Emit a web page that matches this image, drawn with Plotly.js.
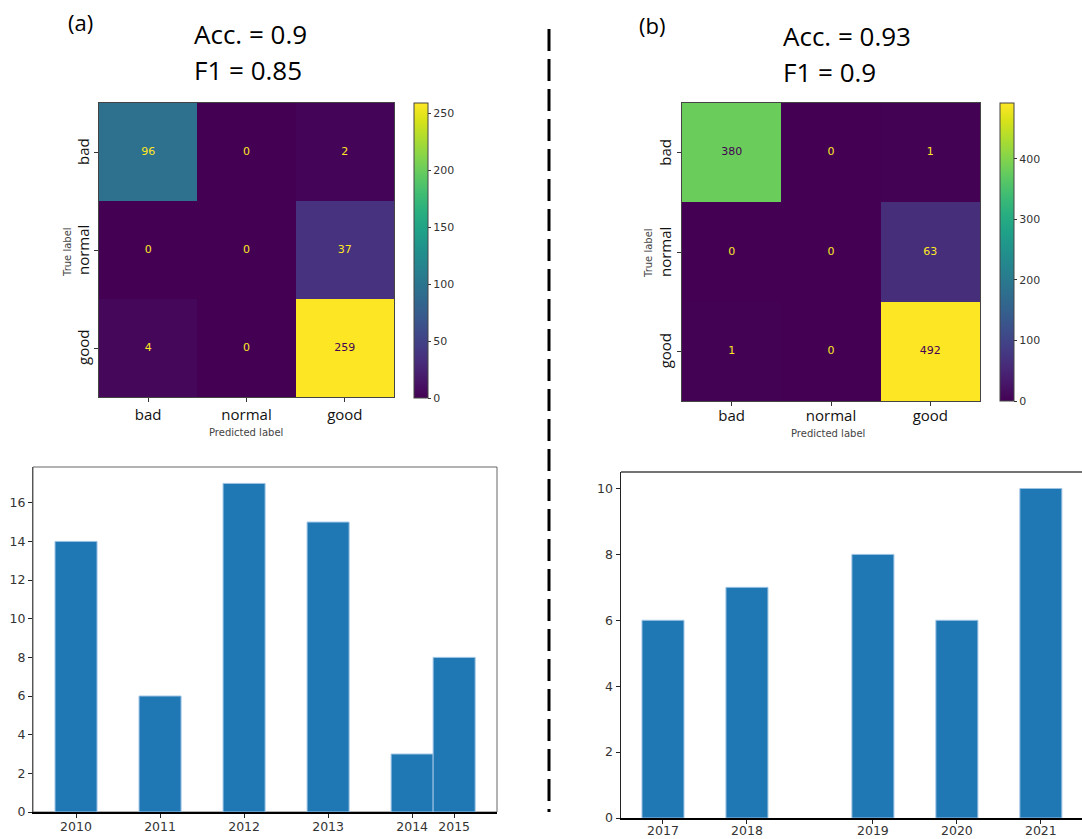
<!DOCTYPE html>
<html>
<head>
<meta charset="utf-8">
<script src="https://cdn.plot.ly/plotly-3.0.1.min.js"></script>
<style>html,body{margin:0;padding:0;background:#fff;}#chart{width:1082px;height:839px;}</style>
</head>
<body>
<div id="chart"></div>
<script>
// ---- data ----
const cmLabels = ['bad', 'normal', 'good'];
const cmA = [[96, 0, 2], [0, 0, 37], [4, 0, 259]];
const cmB = [[380, 0, 1], [0, 0, 63], [1, 0, 492]];
const panelTags = ['(a)', '(b)'];
const accText = ['Acc. = 0.9', 'Acc. = 0.93'];
const f1Text = ['F1 = 0.85', 'F1 = 0.9'];
const yearsA = ['2010', '2011', '2012', '2013', '2014', '2015'];
const posA = [0, 1, 2, 3, 4, 4.5];
const countsA = [14, 6, 17, 15, 3, 8];
const yearsB = ['2017', '2018', '2019', '2020', '2021'];
const posB = [0, 1, 2.5, 3.5, 4.5];
const countsB = [6, 7, 8, 6, 10];

// ---- helpers ----
const W = 1082, H = 839;
const px = v => v / W;
const py = v => 1 - v / H;
const DV = 'DejaVu Sans, sans-serif';
const OS = 'Open Sans, sans-serif';

function cellText(cm, xa, ya) {
  let zmax = 0;
  cm.forEach(r => r.forEach(v => { if (v > zmax) zmax = v; }));
  const thr = zmax / 2;
  const xs = [], ys = [], ts = [], cs = [];
  cm.forEach((row, i) => row.forEach((v, j) => {
    xs.push(cmLabels[j]); ys.push(cmLabels[i]); ts.push(String(v));
    cs.push(v > thr ? '#440154' : '#fde725');
  }));
  return {type: 'scatter', mode: 'text', x: xs, y: ys, text: ts, xaxis: xa, yaxis: ya,
    textfont: {family: DV, size: 11, color: cs}, hoverinfo: 'skip', showlegend: false};
}

function heat(cm, xa, ya, cbx, cbTop, cbBot, dtick) {
  let zmax = 0;
  cm.forEach(r => r.forEach(v => { if (v > zmax) zmax = v; }));
  return {type: 'heatmap', z: cm, x: cmLabels, y: cmLabels, xaxis: xa, yaxis: ya,
    colorscale: 'Viridis', zmin: 0, zmax: zmax, xgap: 0, ygap: 0,
    colorbar: {x: px(cbx), xanchor: 'left', thickness: 14, thicknessmode: 'pixels',
      len: (cbBot - cbTop) / H, lenmode: 'fraction', y: py((cbTop + cbBot) / 2), yanchor: 'middle',
      xpad: 0, ypad: 0, outlinewidth: 1, outlinecolor: '#444', ticks: 'outside', ticklen: 3,
      tickcolor: '#333', dtick: dtick, tick0: 0, tickfont: {family: DV, size: 11, color: '#333'}}};
}

const barMarker = {color: '#1f77b4', line: {color: '#9cc3e4', width: 1}};

const traces = [
  heat(cmA, 'x', 'y', 414, 103, 398, 50),
  cellText(cmA, 'x', 'y'),
  heat(cmB, 'x2', 'y2', 1000, 103, 401, 100),
  cellText(cmB, 'x2', 'y2'),
  {type: 'bar', x: posA, y: countsA, width: 0.5, xaxis: 'x3', yaxis: 'y3', marker: barMarker, showlegend: false},
  {type: 'bar', x: posB, y: countsB, width: 0.5, xaxis: 'x4', yaxis: 'y4', marker: barMarker, showlegend: false}
];

const hmX = (dom, anchor, so) => ({domain: dom, anchor: anchor, type: 'category', categoryorder: 'array', categoryarray: cmLabels,
  showline: true, mirror: true, linecolor: '#444', linewidth: 1, ticks: 'outside', ticklen: 4, tickcolor: '#333',
  ticklabelstandoff: so,
  tickfont: {family: OS, size: 15, color: '#111'}, showgrid: false, zeroline: false, fixedrange: true});
const hmY = (dom, anchor) => ({domain: dom, anchor: anchor, type: 'category', categoryorder: 'array', categoryarray: cmLabels,
  autorange: 'reversed', showline: true, mirror: true, linecolor: '#444', linewidth: 1, ticks: 'outside',
  ticklen: 4, tickcolor: '#333', showticklabels: false,
  showgrid: false, zeroline: false, fixedrange: true});

const barTickFont = {family: DV, size: 12.5, color: '#333'};

const annotations = [
  {text: panelTags[0], x: px(80), y: py(22), xref: 'paper', yref: 'paper', showarrow: false,
    xanchor: 'center', yanchor: 'middle', font: {family: OS, size: 22, color: '#000'}},
  {text: accText[0], x: px(192), y: py(34), xref: 'paper', yref: 'paper', showarrow: false,
    xanchor: 'left', yanchor: 'middle', font: {family: OS, size: 26, color: '#000'}},
  {text: f1Text[0], x: px(192), y: py(70), xref: 'paper', yref: 'paper', showarrow: false,
    xanchor: 'left', yanchor: 'middle', font: {family: OS, size: 26, color: '#000'}},
  {text: panelTags[1], x: px(652), y: py(25), xref: 'paper', yref: 'paper', showarrow: false,
    xanchor: 'center', yanchor: 'middle', font: {family: OS, size: 22, color: '#000'}},
  {text: accText[1], x: px(781), y: py(36), xref: 'paper', yref: 'paper', showarrow: false,
    xanchor: 'left', yanchor: 'middle', font: {family: OS, size: 26, color: '#000'}},
  {text: f1Text[1], x: px(781), y: py(72), xref: 'paper', yref: 'paper', showarrow: false,
    xanchor: 'left', yanchor: 'middle', font: {family: OS, size: 26, color: '#000'}},
  {text: 'Predicted label', x: px(246), y: py(432), xref: 'paper', yref: 'paper', showarrow: false,
    xanchor: 'center', yanchor: 'middle', font: {family: DV, size: 10, color: '#444'}},
  {text: 'True label', x: px(67), y: py(252), xref: 'paper', yref: 'paper', showarrow: false, textangle: -90,
    xanchor: 'center', yanchor: 'middle', font: {family: DV, size: 10, color: '#444'}},
  {text: 'Predicted label', x: px(828), y: py(433), xref: 'paper', yref: 'paper', showarrow: false,
    xanchor: 'center', yanchor: 'middle', font: {family: DV, size: 10, color: '#444'}},
  {text: 'True label', x: px(648), y: py(253), xref: 'paper', yref: 'paper', showarrow: false, textangle: -90,
    xanchor: 'center', yanchor: 'middle', font: {family: DV, size: 10, color: '#444'}}
];
// rotated row labels of the confusion matrices
[['y', 83], ['y2', 665]].forEach(([ya, xp]) => {
  cmLabels.forEach(lbl => annotations.push({text: lbl, x: px(xp), y: lbl, xref: 'paper', yref: ya,
    showarrow: false, textangle: -90, xanchor: 'center', yanchor: 'middle',
    font: {family: OS, size: 15, color: '#111'}}));
});

const layout = {
  width: W, height: H, margin: {l: 0, r: 0, t: 0, b: 0}, paper_bgcolor: '#fff', plot_bgcolor: '#fff',
  showlegend: false,
  xaxis: hmX([px(99), px(394)], 'y', 0),
  yaxis: hmY([py(397), py(103)], 'x'),
  xaxis2: hmX([px(682), px(980)], 'y2', -3),
  yaxis2: hmY([py(401), py(103)], 'x2'),
  xaxis3: {domain: [px(33), px(497)], range: [-0.512, 5.01], tickvals: posA, ticktext: yearsA,
    ticks: 'outside', ticklen: 4, tickcolor: '#222', tickfont: barTickFont, showgrid: false, zeroline: false,
    showline: true, linecolor: '#000', linewidth: 2, anchor: 'y3', ticklabelstandoff: -2},
  yaxis3: {domain: [py(812), py(467)], range: [0, 17.85], dtick: 2, ticks: 'outside', ticklen: 4,
    tickcolor: '#222', tickfont: barTickFont, showgrid: false, zeroline: false, showline: true,
    linecolor: '#555', linewidth: 1, anchor: 'x3'},
  xaxis4: {domain: [px(621), 1], range: [-0.5, 4.99], tickvals: posB, ticktext: yearsB,
    ticks: 'outside', ticklen: 4, tickcolor: '#222', tickfont: barTickFont, showgrid: false, zeroline: false,
    showline: true, linecolor: '#000', linewidth: 2, anchor: 'y4', ticklabelstandoff: -4},
  yaxis4: {domain: [py(818), py(472)], range: [0, 10.5], dtick: 2, ticks: 'outside', ticklen: 4,
    tickcolor: '#222', tickfont: barTickFont, showgrid: false, zeroline: false, showline: true,
    linecolor: '#222', linewidth: 1.5, anchor: 'x4'},
  shapes: [
    {type: 'line', xref: 'paper', yref: 'paper', x0: px(549), x1: px(549), y0: py(29), y1: py(812),
      line: {color: '#000', width: 3, dash: '22px,8px'}},
    {type: 'rect', xref: 'x3 domain', yref: 'y3 domain', x0: 0, x1: 1, y0: 0, y1: 1,
      line: {color: '#666', width: 1}, layer: 'below'},
    {type: 'line', xref: 'x4 domain', yref: 'y4 domain', x0: 0, x1: 1, y0: 1, y1: 1,
      line: {color: '#444', width: 1.5}}
  ],
  annotations: annotations
};

Plotly.newPlot('chart', traces, layout, {displayModeBar: false, staticPlot: true});
</script>
</body>
</html>
